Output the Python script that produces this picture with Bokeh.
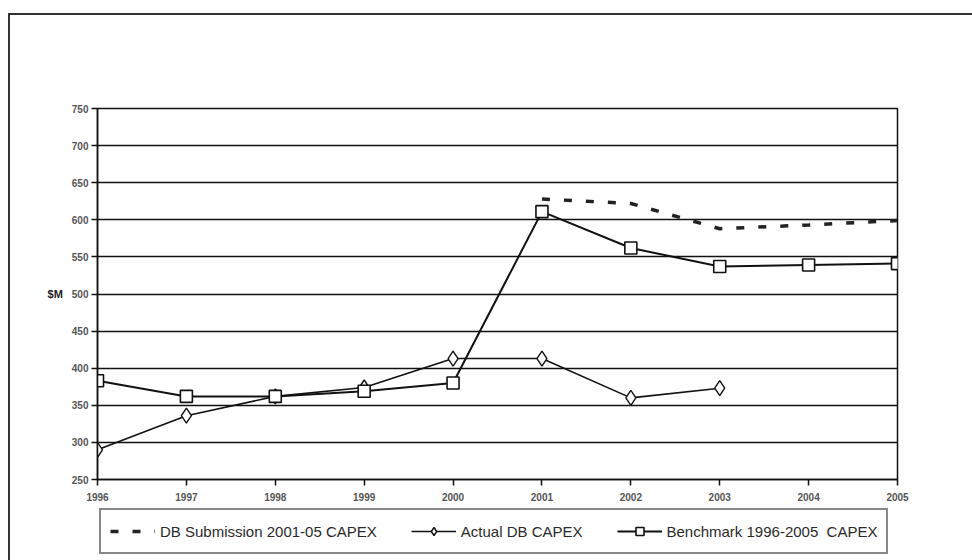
from bokeh.plotting import figure
from bokeh.layouts import column
from bokeh.models import Legend, LegendItem, FixedTicker, Range1d
from bokeh.embed import file_html
from bokeh.resources import INLINE

# Capital expenditure, $M
years = [1996, 1997, 1998, 1999, 2000, 2001, 2002, 2003, 2004, 2005]
benchmark = [383, 362, 362, 369, 380, 611, 562, 537, 539, 541]

actual_years = [1996, 1997, 1998, 1999, 2000, 2001, 2002, 2003]
actual = [290, 336, 362, 374, 413, 413, 360, 373]

submission_years = [2001, 2002, 2003, 2004, 2005]
submission = [628, 622, 588, 593, 599]

y_ticks = [250, 300, 350, 400, 450, 500, 550, 600, 650, 700, 750]

series_labels = [
    "DB Submission 2001-05 CAPEX",
    "Actual DB CAPEX",
    "Benchmark 1996-2005  CAPEX",
]

INK = "#111111"
TICK_FONT = "Liberation Sans"

# styles shared by the chart and its key
SUB_STYLE = dict(line_color="#222222", line_width=3.5, line_dash="8 14")
ACT_LINE = dict(line_color=INK, line_width=1.6)
ACT_MARK = dict(marker="diamond", size=15, fill_color="white", line_color=INK, line_width=1.4)
BEN_LINE = dict(line_color=INK, line_width=2)
BEN_MARK = dict(marker="square", size=12, fill_color="white", line_color=INK, line_width=1.6)

p = figure(
    width=962, height=492,
    output_backend="svg", toolbar_location=None,
    x_range=Range1d(years[0], years[-1]), y_range=Range1d(y_ticks[0], y_ticks[-1]),
    min_border_left=87, min_border_right=75,
    min_border_top=93, min_border_bottom=28,
    background_fill_color="white", border_fill_color="white",
)

# frame: top and right edges
p.outline_line_color = INK
p.outline_line_width = 1.5

# horizontal gridlines only
p.xgrid.visible = False
p.ygrid.ticker = FixedTicker(ticks=y_ticks)
p.ygrid.grid_line_color = INK
p.ygrid.grid_line_width = 1.5

p.yaxis.ticker = FixedTicker(ticks=y_ticks)
p.xaxis.ticker = FixedTicker(ticks=years)
for ax in (p.xaxis[0], p.yaxis[0]):
    ax.axis_line_color = INK
    ax.axis_line_width = 1.5
    ax.major_tick_line_color = INK
    ax.major_tick_line_width = 1.5
    ax.major_tick_in = 0
    ax.major_tick_out = 6
    ax.minor_tick_line_color = None
    ax.major_label_text_font = TICK_FONT
    ax.major_label_text_font_size = "10px"
    ax.major_label_text_font_style = "bold"
    ax.major_label_text_color = "#555555"

p.xaxis.major_label_standoff = 7
p.yaxis.major_label_standoff = 3
p.yaxis.axis_label = "$M"
p.yaxis.axis_label_orientation = "horizontal"
p.yaxis.axis_label_standoff = 6
p.yaxis.axis_label_text_font = TICK_FONT
p.yaxis.axis_label_text_font_size = "11px"
p.yaxis.axis_label_text_font_style = "bold"
p.yaxis.axis_label_text_color = "#222222"

# series
p.line(submission_years, submission, **SUB_STYLE)
p.line(actual_years, actual, **ACT_LINE)
p.scatter(actual_years, actual, **ACT_MARK)
p.line(years, benchmark, **BEN_LINE)
p.scatter(years, benchmark, **BEN_MARK)

# key strip underneath the chart; its renderers only supply the key glyphs,
# the data sit outside the strip's ranges
key = figure(
    width=962, height=53,
    output_backend="svg", toolbar_location=None,
    x_range=Range1d(0, 1), y_range=Range1d(0, 1),
    x_axis_location=None, y_axis_location=None,
    min_border=0, outline_line_color=None,
    background_fill_color="white", border_fill_color="white",
)
key.grid.visible = False
k_sub = key.line(submission_years, submission, **SUB_STYLE)
k_act_l = key.line(actual_years, actual, **ACT_LINE)
k_act_m = key.scatter(actual_years, actual, **ACT_MARK)
k_ben_l = key.line(years, benchmark, **BEN_LINE)
k_ben_m = key.scatter(years, benchmark, **BEN_MARK)

legend = Legend(
    items=[
        LegendItem(label=series_labels[0], renderers=[k_sub]),
        LegendItem(label=series_labels[1], renderers=[k_act_l, k_act_m]),
        LegendItem(label=series_labels[2], renderers=[k_ben_l, k_ben_m]),
    ],
    orientation="horizontal",
    location=(2, 6),
    border_line_color=INK,
    border_line_width=2,
    background_fill_color="white",
    background_fill_alpha=1,
    padding=9,
    margin=0,
    spacing=34,
    glyph_width=45,
    glyph_height=20,
    label_height=24,
    label_standoff=5,
    label_text_font=TICK_FONT,
    label_text_font_size="15px",
    label_text_color="#2a2a2a",
)
key.add_layout(legend, "center")

# page frame around the chart (its left and top edges show)
page = column(p, key, spacing=0, styles={
    "margin-left": "8px", "margin-top": "13px",
    "border-left": "2px solid #333333", "border-top": "2px solid #333333",
})

open("out.html", "w").write(file_html(page, INLINE))
